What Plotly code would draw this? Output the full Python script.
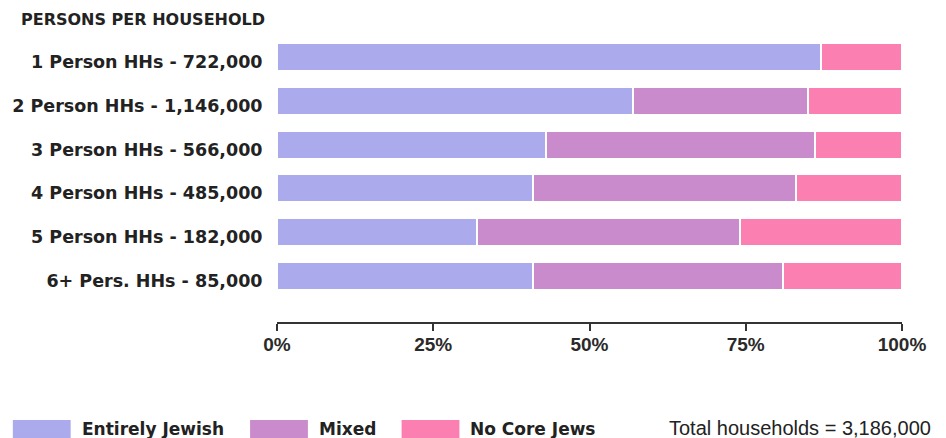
import plotly.graph_objects as go

categories = [
    "1 Person HHs - 722,000",
    "2 Person HHs - 1,146,000",
    "3 Person HHs - 566,000",
    "4 Person HHs - 485,000",
    "5 Person HHs - 182,000",
    "6+ Pers. HHs - 85,000",
]
entirely_jewish = [87, 57, 43, 41, 32, 41]
mixed = [0, 28, 43, 42, 42, 40]
no_core_jews = [13, 15, 14, 17, 26, 19]

series_names = ["Entirely Jewish", "Mixed", "No Core Jews"]
series_values = [entirely_jewish, mixed, no_core_jews]
series_colors = ["#aaaaec", "#c98bcb", "#fc7fb1"]

tick_vals = [0, 25, 50, 75, 100]
tick_text = ["0%", "25%", "50%", "75%", "100%"]

BOLD = "DejaVu Sans, Liberation Sans, Arial, sans-serif"

fig = go.Figure()
for name, vals, col in zip(series_names, series_values, series_colors):
    fig.add_trace(go.Bar(
        y=categories, x=vals, name=name, orientation="h",
        marker=dict(color=col, line=dict(color="white", width=2)),
        width=0.64, showlegend=False,
    ))

W, H = 946, 438
L, R, T, B = 275, 44, 35, 116
pw = W - L - R
ph = H - T - B

def px_x(x):
    return (x - L) / pw

def px_y(y):
    return (H - B - y) / ph

fig.update_layout(
    width=W, height=H,
    margin=dict(l=L, r=R, t=T, b=B),
    barmode="stack",
    plot_bgcolor="white", paper_bgcolor="white",
    font=dict(family="Liberation Sans, Arial, sans-serif", color="#222222"),
    xaxis=dict(
        range=[0, 100], tickvals=tick_vals, ticktext=tick_text,
        showgrid=False, zeroline=False, showline=True, linecolor="#333333", linewidth=1.5,
        ticks="outside", ticklen=7, tickwidth=1.5, tickcolor="#333333",
        tickfont=dict(size=19, color="#2a2a2a", family="Liberation Sans, Arial", weight="bold"),
        ticklabelstandoff=-3,
    ),
    yaxis=dict(
        categoryorder="array", categoryarray=categories,
        range=[len(categories) - 1 + 1.05, -0.5],
        showgrid=False, zeroline=False, showline=False,
        ticks="outside", ticklen=10, tickcolor="rgba(0,0,0,0)",
        tickfont=dict(size=17.5, color="#222222", family=BOLD, weight="bold"),
        ticklabelshift=-5,
    ),
    bargap=0.4,
)

fig.add_annotation(
    text="<b>PERSONS PER HOUSEHOLD</b>", xref="paper", yref="paper",
    x=px_x(16), y=px_y(19), xanchor="left", yanchor="middle",
    showarrow=False, font=dict(size=16, color="#222222", family=BOLD),
)

# legend built from series names/colors
legend_x = [10, 248, 400]
for lx, name, col in zip(legend_x, series_names, series_colors):
    fig.add_shape(
        type="rect", xref="paper", yref="paper",
        x0=px_x(lx), x1=px_x(lx + 58), y0=px_y(438), y1=px_y(420),
        fillcolor=col, line=dict(width=0), layer="above",
    )
    fig.add_annotation(
        text="<b>" + name + "</b>", xref="paper", yref="paper",
        x=px_x(lx + 67), y=px_y(429), xanchor="left", yanchor="middle",
        showarrow=False, font=dict(size=17, color="#222222", family=BOLD),
    )

fig.add_annotation(
    text="Total households = 3,186,000", xref="paper", yref="paper",
    x=px_x(933), y=px_y(428), xanchor="right", yanchor="middle",
    showarrow=False, font=dict(size=20, color="#222222"),
)

fig.write_html("out.html", config={"displayModeBar": False},
               post_script="document.body.style.margin='0';document.body.style.padding='0';")
